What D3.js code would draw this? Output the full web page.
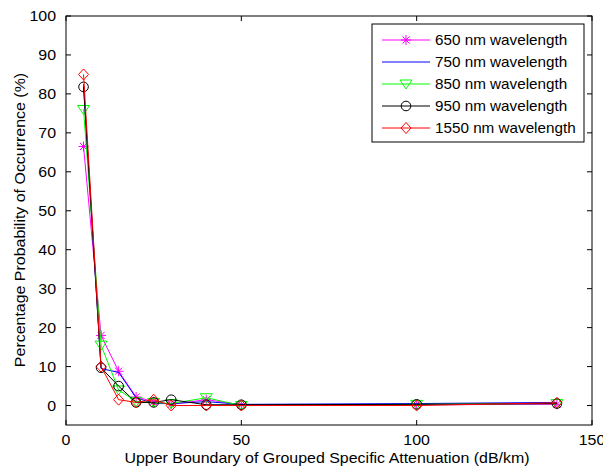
<!DOCTYPE html>
<html>
<head>
<meta charset="utf-8">
<script src="https://cdn.jsdelivr.net/npm/d3@7"></script>
<style>
  body { margin: 0; background: #fff; }
  svg text { font-family: "Liberation Sans", Arial, sans-serif; fill: #000; font-size: 14px; }
</style>
</head>
<body>
<div id="chart"></div>
<script>
// data
const attenuation = [5, 10, 15, 20, 25, 30, 40, 50, 100, 140];
const nm650 = [66.5, 18, 8.8, 2.2, 1, 0.3, 1.5, 0.2, 0.2, 0.3];
const nm750 = [82.5, 9.5, 8.5, 2, 0.5, 0.5, 1, 0.3, 0.5, 0.8];
const nm850 = [76, 15.5, 4, 1, 0.8, 0.5, 2, 0, 0.3, 0.5];
const nm950 = [81.8, 9.7, 5, 0.8, 0.8, 1.5, 0.2, 0.2, 0.3, 0.5];
const nm1550 = [85, 10, 1.5, 0.8, 1.5, 0, 0, 0, 0, 0.7];
const seriesNames = ["650 nm wavelength", "750 nm wavelength", "850 nm wavelength", "950 nm wavelength", "1550 nm wavelength"];
const seriesColors = ["#ff00ff", "#0000ff", "#00ff00", "#000000", "#ff0000"];
const seriesMarkers = ["star", "none", "triangle", "circle", "diamond"];
const xTicks = [0, 50, 100, 150];
const yTicks = [0, 10, 20, 30, 40, 50, 60, 70, 80, 90, 100];

const allSeries = [nm650, nm750, nm850, nm950, nm1550];

// plot box in page pixels
const margin = {top: 16, right: 11, bottom: 47, left: 66},
    width = 603 - margin.left - margin.right,
    height = 472 - margin.top - margin.bottom;

// the text in the picture is a bit wider than plain Arial
const stretch = 1.14;

let svg = d3.select("#chart").append("svg")
    .attr("width", 603)
    .attr("height", 472);

// helper: text placed at (tx,ty), stretched horizontally
function addText(parent, tx, ty, str, anchor, sx) {
    return parent.append("text")
        .attr("transform", "translate(" + tx + "," + ty + ") scale(" + (sx || stretch) + ",1)")
        .attr("text-anchor", anchor)
        .text(str);
}

let g = svg.append("g")
    .attr("transform", "translate(" + margin.left + "," + margin.top + ")");

let x = d3.scaleLinear().domain([0, 150]).range([0, width]);
let y = d3.scaleLinear().domain([-5, 100]).range([height, 0]);

// box + inward ticks on all sides
g.append("rect")
    .attr("width", width).attr("height", height)
    .attr("fill", "none").attr("stroke", "#000").attr("stroke-width", 1);

const tickLen = 5;
xTicks.forEach(function(t) {
    g.append("line").attr("x1", x(t)).attr("x2", x(t)).attr("y1", height).attr("y2", height - tickLen).attr("stroke", "#000");
    g.append("line").attr("x1", x(t)).attr("x2", x(t)).attr("y1", 0).attr("y2", tickLen).attr("stroke", "#000");
    addText(g, x(t), height + 20, t, "middle");
});
yTicks.forEach(function(t) {
    g.append("line").attr("x1", 0).attr("x2", tickLen).attr("y1", y(t)).attr("y2", y(t)).attr("stroke", "#000");
    g.append("line").attr("x1", width).attr("x2", width - tickLen).attr("y1", y(t)).attr("y2", y(t)).attr("stroke", "#000");
    addText(g, -10, y(t) + 5, t, "end");
});

// axis labels
addText(svg, 327, 463, "Upper Boundary of Grouped Specific Attenuation (dB/km)", "middle");
svg.append("text")
    .attr("transform", "translate(25,220) rotate(-90) scale(" + stretch + ",1)")
    .attr("text-anchor", "middle")
    .text("Percentage Probability of Occurrence (%)");

// marker drawing
function drawMarker(sel, type, color, cx, cy) {
    if (type === "circle") {
        sel.append("circle").attr("cx", cx).attr("cy", cy).attr("r", 4.8)
            .attr("fill", "none").attr("stroke", color);
    } else if (type === "diamond") {
        sel.append("path")
            .attr("d", "M" + cx + "," + (cy - 5.5) + "L" + (cx + 5) + "," + cy + "L" + cx + "," + (cy + 5.5) + "L" + (cx - 5) + "," + cy + "Z")
            .attr("fill", "none").attr("stroke", color);
    } else if (type === "triangle") {
        sel.append("path")
            .attr("d", "M" + (cx - 6) + "," + (cy - 4) + "L" + (cx + 6) + "," + (cy - 4) + "L" + cx + "," + (cy + 5) + "Z")
            .attr("fill", "none").attr("stroke", color);
    } else if (type === "star") {
        let r = 5;
        [0, 45, 90, 135].forEach(function(a) {
            let rad = a * Math.PI / 180;
            sel.append("line")
                .attr("x1", cx - r * Math.cos(rad)).attr("y1", cy - r * Math.sin(rad))
                .attr("x2", cx + r * Math.cos(rad)).attr("y2", cy + r * Math.sin(rad))
                .attr("stroke", color);
        });
    }
}

const line = d3.line()
    .x(function(d, i) { return x(attenuation[i]); })
    .y(function(d) { return y(d); });

allSeries.forEach(function(vals, s) {
    g.append("path")
        .datum(vals)
        .attr("fill", "none")
        .attr("stroke", seriesColors[s])
        .attr("stroke-width", 1)
        .attr("d", line);
    let mg = g.append("g");
    vals.forEach(function(v, i) {
        drawMarker(mg, seriesMarkers[s], seriesColors[s], x(attenuation[i]), y(v));
    });
});

// legend
let lg = svg.append("g");
lg.append("rect")
    .attr("x", 372).attr("y", 24).attr("width", 212).attr("height", 118)
    .attr("fill", "#fff").attr("stroke", "#000");
seriesNames.forEach(function(name, s) {
    let ly = 40 + s * 22;
    lg.append("line").attr("x1", 382).attr("x2", 430).attr("y1", ly).attr("y2", ly)
        .attr("stroke", seriesColors[s]);
    drawMarker(lg, seriesMarkers[s], seriesColors[s], 406, ly);
    addText(lg, 435, ly + 5, name, "start", 1.09);
});
</script>
</body>
</html>
